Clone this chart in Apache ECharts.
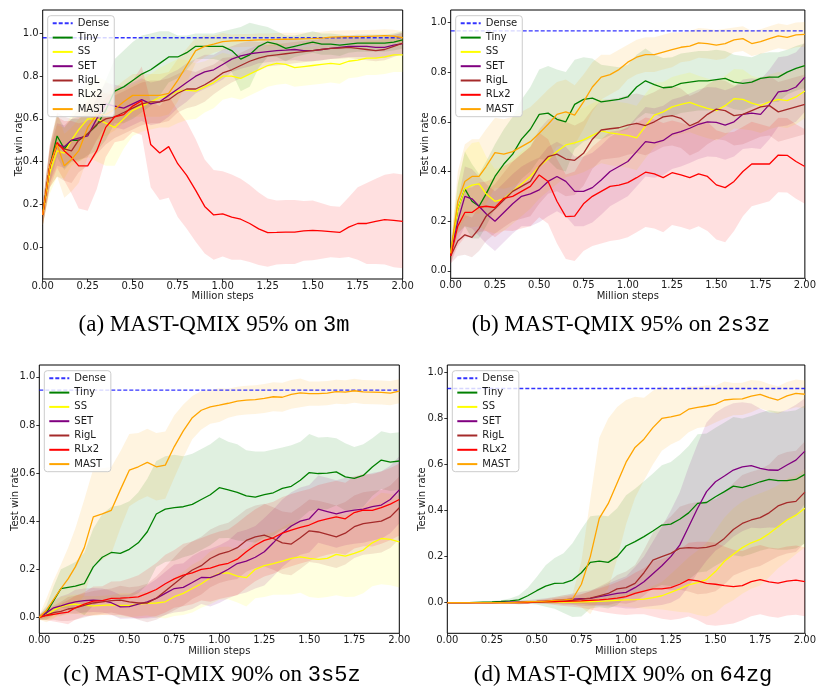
<!DOCTYPE html>
<html><head><meta charset="utf-8">
<script src="https://cdn.jsdelivr.net/npm/echarts@6/dist/echarts.min.js"></script>
<style>html,body{margin:0;padding:0;background:#fff}#c{width:819px;height:690px}</style>
</head><body><div id="c"></div><script>
// ---------- data ----------
const steps = [0,0.04,0.08,0.12,0.16,0.2, 0.25,0.3,0.35,0.4,0.45,0.5,0.55,0.6,0.65,0.7, 0.75,0.8,0.85,0.9,0.95,1,1.05,1.1,1.15,1.2, 1.25,1.3,1.35,1.4,1.45,1.5,1.55,1.6,1.65,1.7, 1.75,1.8,1.85,1.9,1.95,2];
const methods = ['Tiny','SS','SET','RigL','RLx2','MAST'];
const legendNames = ['Dense','Tiny','SS','SET','RigL','RLx2','MAST'];
const yTicks = [0,0.2,0.4,0.6,0.8,1.0];
const denseLevels = [0.98,0.966,0.945,0.93];
const captions = ['(a) MAST-QMIX 95% on |3m','(b) MAST-QMIX 95% on |2s3z','(c) MAST-QMIX 90% on |3s5z','(d) MAST-QMIX 90% on |64zg'];

// panel (a) 3m
const tinyA = [0.15,0.38,0.52,0.46,0.5,0.5, 0.53,0.57,0.64,0.73,0.75,0.78,0.81,0.83,0.86,0.89, 0.89,0.91,0.94,0.94,0.94,0.94,0.92,0.88,0.9,0.94, 0.96,0.95,0.93,0.94,0.95,0.96,0.95,0.95,0.945,0.95, 0.955,0.955,0.955,0.955,0.96,0.97];
const ssA = [0.15,0.35,0.45,0.44,0.5,0.55, 0.6,0.6,0.58,0.56,0.6,0.64,0.66,0.68,0.7,0.71, 0.73,0.735,0.73,0.75,0.77,0.8,0.8,0.79,0.81,0.83, 0.85,0.86,0.855,0.84,0.845,0.85,0.855,0.86,0.855,0.87, 0.875,0.885,0.885,0.89,0.9,0.9];
const setA = [0.15,0.38,0.48,0.47,0.5,0.51, 0.52,0.6,0.67,0.66,0.65,0.67,0.69,0.67,0.68,0.71, 0.74,0.77,0.8,0.82,0.83,0.855,0.88,0.895,0.905,0.91, 0.915,0.92,0.922,0.925,0.92,0.92,0.925,0.93,0.935,0.94, 0.94,0.94,0.935,0.935,0.945,0.952];
const rigA = [0.15,0.38,0.48,0.46,0.45,0.5, 0.53,0.575,0.6,0.61,0.63,0.65,0.67,0.68,0.68,0.69, 0.72,0.74,0.74,0.76,0.785,0.815,0.83,0.85,0.87,0.885, 0.895,0.9,0.905,0.91,0.915,0.92,0.925,0.93,0.932,0.935, 0.93,0.925,0.92,0.925,0.94,0.955];
const rlA = [0.15,0.38,0.49,0.45,0.42,0.38, 0.38,0.45,0.56,0.61,0.62,0.66,0.685,0.48,0.44,0.47, 0.39,0.335,0.265,0.19,0.15,0.155,0.14,0.13,0.11,0.085, 0.067,0.068,0.07,0.07,0.075,0.078,0.075,0.072,0.068,0.093, 0.11,0.11,0.12,0.128,0.125,0.12];
const mastA = [0.15,0.38,0.48,0.38,0.41,0.45, 0.56,0.62,0.62,0.645,0.68,0.71,0.71,0.71,0.71,0.72, 0.78,0.85,0.92,0.94,0.95,0.962,0.965,0.967,0.968,0.97, 0.97,0.972,0.973,0.974,0.975,0.976,0.978,0.983,0.984,0.985, 0.985,0.986,0.988,0.99,0.988,0.98];
const tinyA_sd = [0.05,0.08,0.1,0.1,0.1,0.1, 0.1,0.12,0.14,0.15,0.17,0.18,0.18,0.17,0.15,0.12, 0.1,0.08,0.06,0.06,0.06,0.07,0.1,0.15,0.15,0.1, 0.07,0.06,0.06,0.05,0.05,0.05,0.05,0.05,0.05,0.04, 0.04,0.04,0.04,0.04,0.04,0.04];
const ssA_sd = [0.05,0.1,0.12,0.12,0.12,0.15, 0.18,0.2,0.2,0.18,0.14,0.12,0.12,0.13,0.14,0.15, 0.15,0.14,0.13,0.12,0.12,0.11,0.1,0.1,0.1,0.1, 0.1,0.1,0.09,0.09,0.09,0.09,0.09,0.09,0.09,0.08, 0.08,0.08,0.08,0.08,0.08,0.08];
const setA_sd = [0.05,0.08,0.1,0.1,0.1,0.1, 0.1,0.1,0.1,0.1,0.1,0.1,0.1,0.1,0.1,0.1, 0.09,0.09,0.08,0.08,0.07,0.07,0.06,0.06,0.06,0.05, 0.05,0.05,0.05,0.05,0.05,0.05,0.05,0.05,0.05,0.05, 0.05,0.05,0.05,0.05,0.05,0.05];
const rigA_sd = [0.05,0.1,0.15,0.15,0.15,0.15, 0.15,0.14,0.12,0.1,0.1,0.1,0.1,0.1,0.1,0.1, 0.09,0.09,0.08,0.08,0.07,0.07,0.06,0.06,0.06,0.06, 0.05,0.05,0.05,0.05,0.05,0.05,0.05,0.05,0.05,0.05, 0.05,0.05,0.05,0.05,0.05,0.05];
const rlA_sd = [0.05,0.1,0.12,0.14,0.17,0.2, 0.21,0.18,0.14,0.12,0.12,0.12,0.16,0.2,0.22,0.24, 0.25,0.25,0.24,0.22,0.21,0.2,0.2,0.19,0.18,0.17, 0.16,0.15,0.15,0.15,0.14,0.14,0.13,0.12,0.12,0.14, 0.17,0.19,0.2,0.21,0.22,0.22];
const mastA_sd = [0.05,0.1,0.15,0.15,0.15,0.15, 0.14,0.12,0.1,0.1,0.1,0.1,0.1,0.1,0.1,0.1, 0.1,0.08,0.06,0.05,0.04,0.04,0.03,0.03,0.03,0.03, 0.03,0.03,0.03,0.03,0.03,0.03,0.03,0.03,0.03,0.03, 0.03,0.03,0.03,0.03,0.03,0.03];

// panel (b) 2s3z
const tinyB = [0.07,0.25,0.33,0.28,0.26,0.31, 0.38,0.43,0.47,0.53,0.57,0.63,0.635,0.61,0.6,0.67, 0.69,0.695,0.68,0.685,0.69,0.7,0.74,0.765,0.75,0.737, 0.74,0.755,0.76,0.765,0.765,0.77,0.775,0.76,0.755,0.76, 0.775,0.78,0.78,0.8,0.815,0.826];
const ssB = [0.07,0.25,0.33,0.345,0.35,0.31, 0.28,0.29,0.32,0.35,0.38,0.42,0.45,0.48,0.507,0.515, 0.527,0.545,0.563,0.555,0.55,0.545,0.535,0.583,0.627,0.64, 0.66,0.67,0.678,0.665,0.654,0.645,0.665,0.693,0.69,0.675, 0.665,0.68,0.69,0.685,0.7,0.724];
const setB = [0.06,0.2,0.3,0.29,0.26,0.23, 0.2,0.235,0.27,0.3,0.31,0.326,0.36,0.38,0.36,0.32, 0.32,0.335,0.366,0.4,0.42,0.44,0.48,0.52,0.515,0.525, 0.55,0.56,0.574,0.59,0.6,0.598,0.587,0.6,0.63,0.635, 0.63,0.67,0.72,0.725,0.74,0.78];
const rigB = [0.06,0.12,0.145,0.135,0.17,0.22, 0.25,0.285,0.32,0.34,0.36,0.42,0.46,0.47,0.45,0.445, 0.473,0.53,0.567,0.572,0.576,0.587,0.594,0.585,0.6,0.62, 0.625,0.614,0.584,0.6,0.63,0.651,0.645,0.625,0.63,0.645, 0.66,0.665,0.64,0.65,0.66,0.67];
const rlB = [0.06,0.18,0.235,0.235,0.256,0.26, 0.255,0.292,0.3,0.32,0.34,0.386,0.36,0.28,0.218,0.22, 0.27,0.3,0.32,0.34,0.345,0.355,0.375,0.397,0.39,0.375, 0.395,0.386,0.375,0.39,0.38,0.346,0.335,0.36,0.4,0.43, 0.43,0.43,0.466,0.465,0.44,0.42];
const mastB = [0.07,0.28,0.36,0.38,0.38,0.42, 0.476,0.47,0.48,0.5,0.52,0.554,0.59,0.63,0.64,0.627, 0.68,0.74,0.78,0.79,0.81,0.84,0.86,0.87,0.87,0.88, 0.89,0.9,0.905,0.918,0.915,0.909,0.915,0.93,0.935,0.915, 0.923,0.935,0.946,0.94,0.95,0.952];
const tinyB_sd = [0.03,0.1,0.15,0.15,0.13,0.13, 0.13,0.14,0.15,0.16,0.17,0.18,0.19,0.2,0.2,0.18, 0.17,0.16,0.15,0.14,0.13,0.13,0.13,0.13,0.12,0.12, 0.12,0.12,0.12,0.12,0.12,0.12,0.11,0.11,0.11,0.1, 0.1,0.1,0.1,0.09,0.09,0.09];
const ssB_sd = [0.03,0.1,0.15,0.17,0.17,0.15, 0.13,0.13,0.13,0.13,0.13,0.13,0.13,0.13,0.13,0.13, 0.13,0.13,0.13,0.13,0.13,0.13,0.13,0.13,0.13,0.12, 0.12,0.12,0.12,0.12,0.12,0.12,0.12,0.12,0.12,0.11, 0.11,0.11,0.11,0.11,0.11,0.11];
const setB_sd = [0.03,0.08,0.12,0.12,0.12,0.12, 0.12,0.12,0.12,0.12,0.13,0.13,0.14,0.14,0.14,0.14, 0.14,0.14,0.14,0.14,0.14,0.14,0.14,0.14,0.14,0.14, 0.14,0.14,0.14,0.14,0.14,0.14,0.14,0.14,0.14,0.14, 0.14,0.14,0.14,0.14,0.14,0.14];
const rigB_sd = [0.03,0.06,0.08,0.08,0.09,0.1, 0.1,0.11,0.12,0.13,0.14,0.15,0.15,0.15,0.15,0.14, 0.13,0.12,0.12,0.12,0.12,0.12,0.12,0.12,0.12,0.12, 0.12,0.12,0.12,0.12,0.12,0.12,0.12,0.12,0.12,0.12, 0.12,0.12,0.12,0.12,0.12,0.12];
const rlB_sd = [0.03,0.08,0.1,0.1,0.1,0.1, 0.12,0.13,0.14,0.15,0.16,0.17,0.17,0.17,0.17,0.18, 0.19,0.2,0.21,0.22,0.22,0.22,0.22,0.22,0.22,0.22, 0.21,0.21,0.21,0.21,0.22,0.22,0.22,0.2,0.18,0.17, 0.16,0.15,0.15,0.15,0.15,0.15];
const mastB_sd = [0.03,0.12,0.15,0.15,0.15,0.15, 0.14,0.14,0.14,0.14,0.14,0.14,0.14,0.13,0.13,0.12, 0.11,0.1,0.09,0.08,0.08,0.07,0.07,0.07,0.07,0.07, 0.07,0.06,0.06,0.06,0.06,0.06,0.06,0.05,0.05,0.05, 0.05,0.05,0.05,0.05,0.05,0.05];

// panel (c) 3s5z
const tinyC = [0,0.02,0.07,0.12,0.125,0.13, 0.14,0.21,0.25,0.27,0.266,0.283,0.31,0.356,0.43,0.45, 0.456,0.46,0.47,0.49,0.51,0.539,0.53,0.52,0.505,0.5, 0.51,0.518,0.536,0.545,0.57,0.602,0.598,0.6,0.605,0.584, 0.578,0.59,0.625,0.654,0.645,0.65];
const ssC = [0,0.01,0.03,0.045,0.052,0.055, 0.05,0.048,0.05,0.052,0.05,0.05,0.055,0.058,0.06,0.065, 0.086,0.1,0.12,0.14,0.165,0.183,0.185,0.172,0.165,0.2, 0.215,0.224,0.234,0.245,0.252,0.245,0.241,0.245,0.262,0.255, 0.266,0.28,0.31,0.328,0.324,0.314];
const setC = [0,0.02,0.04,0.048,0.057,0.065, 0.07,0.072,0.07,0.061,0.044,0.045,0.055,0.065,0.079,0.1, 0.12,0.125,0.145,0.166,0.165,0.18,0.2,0.224,0.234,0.25, 0.273,0.31,0.35,0.38,0.4,0.41,0.45,0.44,0.43,0.44, 0.446,0.45,0.46,0.467,0.49,0.53];
const rigC = [0,0.01,0.02,0.025,0.035,0.04, 0.05,0.06,0.065,0.07,0.072,0.065,0.06,0.06,0.08,0.11, 0.14,0.17,0.197,0.215,0.245,0.263,0.273,0.29,0.32,0.335, 0.342,0.328,0.31,0.305,0.331,0.36,0.355,0.345,0.335,0.35, 0.377,0.39,0.395,0.4,0.418,0.456];
const rlC = [0,0.008,0.013,0.018,0.022,0.04, 0.055,0.068,0.07,0.079,0.08,0.082,0.085,0.1,0.116,0.14, 0.16,0.176,0.185,0.2,0.205,0.217,0.225,0.242,0.273,0.3, 0.32,0.331,0.35,0.363,0.374,0.384,0.4,0.41,0.418,0.41, 0.436,0.446,0.445,0.456,0.471,0.49];
const mastC = [0,0.03,0.075,0.12,0.16,0.21, 0.29,0.418,0.43,0.445,0.53,0.612,0.626,0.644,0.626,0.633, 0.71,0.775,0.83,0.861,0.875,0.882,0.89,0.899,0.903,0.905, 0.91,0.917,0.915,0.927,0.933,0.93,0.93,0.932,0.938,0.936, 0.942,0.937,0.936,0.935,0.932,0.94];
const tinyC_sd = [0.01,0.03,0.06,0.08,0.09,0.1, 0.13,0.16,0.18,0.19,0.2,0.2,0.21,0.22,0.22,0.22, 0.22,0.21,0.21,0.21,0.21,0.21,0.2,0.2,0.19,0.19, 0.18,0.18,0.17,0.17,0.16,0.16,0.15,0.15,0.14,0.14, 0.13,0.13,0.12,0.12,0.12,0.12];
const ssC_sd = [0.01,0.02,0.03,0.04,0.04,0.04, 0.04,0.04,0.04,0.04,0.05,0.05,0.05,0.05,0.06,0.07, 0.08,0.09,0.1,0.1,0.11,0.11,0.11,0.11,0.12,0.12, 0.13,0.13,0.14,0.15,0.15,0.16,0.16,0.16,0.17,0.17, 0.18,0.18,0.18,0.19,0.19,0.19];
const setC_sd = [0.01,0.02,0.03,0.04,0.04,0.05, 0.05,0.05,0.05,0.05,0.05,0.05,0.06,0.07,0.08,0.09, 0.1,0.1,0.11,0.11,0.12,0.12,0.12,0.13,0.13,0.13, 0.14,0.14,0.14,0.14,0.14,0.14,0.14,0.14,0.14,0.14, 0.14,0.14,0.14,0.14,0.14,0.14];
const rigC_sd = [0.01,0.02,0.03,0.04,0.05,0.05, 0.05,0.05,0.05,0.05,0.06,0.06,0.07,0.08,0.09,0.1, 0.11,0.12,0.12,0.12,0.12,0.12,0.12,0.13,0.13,0.13, 0.13,0.13,0.13,0.13,0.13,0.13,0.13,0.13,0.13,0.13, 0.13,0.13,0.13,0.13,0.13,0.13];
const rlC_sd = [0.01,0.02,0.03,0.04,0.05,0.05, 0.05,0.06,0.06,0.07,0.07,0.08,0.09,0.1,0.11,0.12, 0.12,0.13,0.13,0.13,0.14,0.14,0.14,0.15,0.15,0.15, 0.15,0.15,0.15,0.15,0.15,0.15,0.15,0.15,0.15,0.15, 0.15,0.15,0.15,0.15,0.15,0.15];
const mastC_sd = [0.01,0.05,0.08,0.1,0.13,0.16, 0.2,0.2,0.19,0.18,0.16,0.15,0.14,0.14,0.14,0.14, 0.13,0.11,0.09,0.08,0.07,0.07,0.06,0.06,0.06,0.06, 0.06,0.06,0.06,0.06,0.06,0.05,0.05,0.05,0.05,0.05, 0.05,0.05,0.05,0.05,0.05,0.05];

// panel (d) 64zg
const tinyD = [0,0,0,0,0.001,0.002, 0.003,0.005,0.008,0.012,0.03,0.052,0.072,0.084,0.085,0.098, 0.13,0.175,0.18,0.175,0.2,0.246,0.265,0.287,0.311,0.337, 0.341,0.362,0.39,0.431,0.435,0.46,0.482,0.506,0.5,0.511, 0.525,0.535,0.53,0.53,0.535,0.557];
const ssD = [0,0,0,0,0,0, 0,0,0,0,0.001,0.001,0.002,0.002,0.003,0.003, 0.004,0.005,0.006,0.008,0.01,0.012,0.013,0.015,0.022,0.03, 0.045,0.06,0.077,0.087,0.1,0.135,0.18,0.21,0.239,0.26, 0.275,0.3,0.33,0.359,0.38,0.41];
const setD = [0,0,0,0,0,0, 0,0.001,0.002,0.003,0.004,0.005,0.007,0.01,0.012,0.015, 0.017,0.019,0.026,0.033,0.04,0.045,0.065,0.091,0.126,0.16, 0.2,0.25,0.33,0.41,0.482,0.525,0.55,0.576,0.59,0.595, 0.583,0.576,0.575,0.598,0.619,0.658];
const rigD = [0,0,0,0,0,0, 0,0,0,0,0,0.003,0.004,0.005,0.007,0.01, 0.015,0.02,0.03,0.04,0.06,0.065,0.084,0.13,0.185,0.2, 0.214,0.236,0.239,0.237,0.24,0.25,0.279,0.318,0.344,0.359, 0.369,0.39,0.42,0.434,0.44,0.48];
const rlD = [0,0,0,0,0,0, 0,0,0,0,0,0.004,0.005,0.005,0.006,0.007, 0.008,0.01,0.012,0.015,0.02,0.026,0.04,0.05,0.06,0.06, 0.065,0.08,0.1,0.095,0.084,0.08,0.074,0.07,0.074,0.091, 0.1,0.09,0.085,0.094,0.098,0.091];
const mastD = [0,0,0,0,0,0, 0,0,0,0.002,0.004,0.005,0.007,0.01,0.012,0.015, 0.08,0.2,0.366,0.43,0.52,0.61,0.674,0.71,0.76,0.8, 0.807,0.815,0.84,0.848,0.854,0.862,0.88,0.884,0.885,0.897, 0.904,0.89,0.88,0.898,0.909,0.905];
const tinyD_sd = [0,0,0,0,0,0.002, 0.004,0.006,0.01,0.02,0.035,0.06,0.09,0.11,0.13,0.16, 0.19,0.2,0.2,0.2,0.21,0.22,0.23,0.24,0.25,0.26, 0.27,0.28,0.29,0.3,0.3,0.3,0.3,0.3,0.3,0.3, 0.3,0.3,0.3,0.3,0.3,0.3];
const ssD_sd = [0,0,0,0,0,0, 0,0,0,0,0.002,0.003,0.004,0.005,0.006,0.008, 0.01,0.012,0.015,0.02,0.025,0.03,0.035,0.04,0.05,0.06, 0.08,0.1,0.12,0.14,0.16,0.18,0.19,0.2,0.2,0.2, 0.2,0.19,0.18,0.18,0.17,0.17];
const setD_sd = [0,0,0,0,0,0, 0,0.002,0.004,0.006,0.008,0.01,0.012,0.015,0.02,0.025, 0.03,0.035,0.04,0.05,0.06,0.07,0.09,0.11,0.14,0.17, 0.2,0.23,0.26,0.28,0.3,0.3,0.3,0.29,0.28,0.27, 0.26,0.25,0.25,0.24,0.24,0.23];
const rigD_sd = [0,0,0,0,0,0, 0,0,0,0,0,0.003,0.005,0.007,0.01,0.015, 0.02,0.03,0.04,0.05,0.06,0.07,0.08,0.1,0.12,0.14, 0.16,0.18,0.19,0.2,0.2,0.2,0.2,0.2,0.21,0.21, 0.21,0.21,0.22,0.22,0.22,0.22];
const rlD_sd = [0,0,0,0,0,0, 0,0,0,0,0,0.005,0.01,0.015,0.02,0.025, 0.03,0.04,0.05,0.06,0.07,0.08,0.09,0.1,0.12,0.13, 0.14,0.15,0.16,0.17,0.18,0.18,0.17,0.16,0.15,0.15, 0.15,0.15,0.15,0.15,0.15,0.15];
const mastD_sd = [0,0,0,0,0,0, 0,0,0.002,0.004,0.006,0.008,0.01,0.015,0.02,0.02, 0.1,0.25,0.35,0.37,0.33,0.27,0.22,0.18,0.16,0.14, 0.12,0.11,0.1,0.09,0.09,0.08,0.08,0.07,0.07,0.07, 0.06,0.06,0.06,0.06,0.06,0.06];

// ---------- layout / style ----------
const colors = {Dense:'#0000ff', Tiny:'#008000', SS:'#ffff00', SET:'#800080', RigL:'#a52a2a', RLx2:'#ff0000', MAST:'#ffa500'};
const panelData = [
  {Tiny:[tinyA,tinyA_sd], SS:[ssA,ssA_sd], SET:[setA,setA_sd], RigL:[rigA,rigA_sd], RLx2:[rlA,rlA_sd], MAST:[mastA,mastA_sd]},
  {Tiny:[tinyB,tinyB_sd], SS:[ssB,ssB_sd], SET:[setB,setB_sd], RigL:[rigB,rigB_sd], RLx2:[rlB,rlB_sd], MAST:[mastB,mastB_sd]},
  {Tiny:[tinyC,tinyC_sd], SS:[ssC,ssC_sd], SET:[setC,setC_sd], RigL:[rigC,rigC_sd], RLx2:[rlC,rlC_sd], MAST:[mastC,mastC_sd]},
  {Tiny:[tinyD,tinyD_sd], SS:[ssD,ssD_sd], SET:[setD,setD_sd], RigL:[rigD,rigD_sd], RLx2:[rlD,rlD_sd], MAST:[mastD,mastD_sd]}
];
const layout = [
  {grid:{left:42.7, top:10, width:360, height:269}, ymin:-0.15, ymax:1.11, legend:{left:47.7, top:15.7}, nameGap:18.5, cap:{x:214, y:325}},
  {grid:{left:450.7, top:10, width:359.3, height:268.3}, ymin:-0.03, ymax:1.05, legend:{left:455.7, top:15.7}, nameGap:20.5, cap:{x:621, y:325}},
  {grid:{left:39.3, top:365, width:360, height:268.3}, ymin:-0.066, ymax:1.049, legend:{left:44.3, top:370.7}, nameGap:19.3, cap:{x:212, y:675}},
  {grid:{left:447.3, top:365, width:359.4, height:268.3}, ymin:-0.133, ymax:1.032, legend:{left:452.3, top:370.7}, nameGap:19.6, cap:{x:623, y:675}}
];

for (let p = 0; p < 4; p++) for (const m of methods) {
  const [mu, sd] = panelData[p][m];
  if (mu.length !== steps.length || sd.length !== steps.length) throw new Error('length mismatch panel '+p+' '+m+' '+mu.length+'/'+sd.length);
}

function rgba(hex, a) {
  const n = parseInt(hex.slice(1), 16);
  return 'rgba(' + ((n>>16)&255) + ',' + ((n>>8)&255) + ',' + (n&255) + ',' + a + ')';
}
function bandRenderer(fill) {
  return function (params, api) {
    if (params.dataIndexInside !== 0) return null;
    const n = params.dataInsideLength;
    const up = [], lo = [];
    for (let k = 0; k < n; k++) {
      up.push(api.coord([api.value(0, k), api.value(2, k)]));
      lo.push(api.coord([api.value(0, k), api.value(1, k)]));
    }
    return {type:'polygon', shape:{points: up.concat(lo.reverse())}, style:{fill: fill, stroke: null}};
  };
}

const txt = '#1a1a1a';
const grids = [], xAxes = [], yAxes = [], legends = [], series = [], graphics = [];
layout.forEach((L, i) => {
  grids.push(Object.assign({show:true, borderColor:'#000', borderWidth:1, backgroundColor:'transparent'}, L.grid));
  xAxes.push({type:'value', gridIndex:i, min:0, max:2, interval:0.25,
    axisLine:{show:false, onZero:false}, splitLine:{show:false},
    axisTick:{show:true, length:3, lineStyle:{color:'#000', width:0.8}},
    axisLabel:{fontSize:10, color:txt, fontFamily:'DejaVu Sans', margin:2, formatter:v=>v.toFixed(2)},
    name:'Million steps', nameLocation:'middle', nameGap:10, nameTextStyle:{fontSize:10, color:txt, fontFamily:'DejaVu Sans'}});
  yAxes.push({type:'value', gridIndex:i, min:L.ymin, max:L.ymax,
    axisLine:{show:false, onZero:false}, splitLine:{show:false},
    axisTick:{show:true, length:3, customValues:yTicks, lineStyle:{color:'#000', width:0.8}},
    axisLabel:{fontSize:10, color:txt, fontFamily:'DejaVu Sans', margin:4, customValues:yTicks, formatter:v=>v.toFixed(1)},
    name:'Test win rate', nameLocation:'middle', nameGap:L.nameGap, nameMoveOverlap:false,
    nameTextStyle:{fontSize:10, color:txt, fontFamily:'DejaVu Sans'}});
  legends.push({left:L.legend.left, top:L.legend.top, orient:'vertical', itemWidth:20, itemHeight:10, itemGap:4.3,
    padding:[2.6,5,2.6,4], backgroundColor:'rgba(255,255,255,0.8)', borderColor:'#cccccc', borderWidth:1, borderRadius:3,
    itemStyle:{opacity:0},
    textStyle:{fontSize:10, color:txt, fontFamily:'DejaVu Sans'}, data:legendNames, selectedMode:false});

  // dense reference
  series.push({type:'line', name:'Dense', xAxisIndex:i, yAxisIndex:i, symbol:'none', silent:true, z:2,
    data:[[steps[0], denseLevels[i]], [steps[steps.length-1], denseLevels[i]]],
    lineStyle:{color:colors.Dense, width:1.3, type:[4,2], opacity:0.8}, itemStyle:{color:colors.Dense}});
  // shaded bands (mean +/- spread)
  methods.forEach(m => {
    const [mu, sd] = panelData[i][m];
    series.push({type:'custom', name:m+' band '+i, xAxisIndex:i, yAxisIndex:i, silent:true, z:1, clip:true,
      encode:{x:0, y:[1,2]},
      data:steps.map((x,k)=>[x, mu[k]-sd[k], mu[k]+sd[k]]),
      renderItem:bandRenderer(rgba(colors[m], 0.12))});
  });
  // mean lines
  methods.forEach(m => {
    const [mu] = panelData[i][m];
    series.push({type:'line', name:m, xAxisIndex:i, yAxisIndex:i, symbol:'none', silent:true, z:3,
      data:steps.map((x,k)=>[x, mu[k]]), lineStyle:{color:colors[m], width:1.3}, itemStyle:{color:colors[m]}});
  });
  // caption
  const parts = captions[i].split('|');
  graphics.push({type:'text', x:L.cap.x, y:L.cap.y, silent:true, style:{
    text:'{s|'+parts[0]+'}{m|'+parts[1]+'}', align:'center', verticalAlign:'middle',
    rich:{s:{fontFamily:'Liberation Serif', fontSize:23, fill:'#000'}, m:{fontFamily:'Liberation Mono', fontSize:22, fill:'#000'}}}});
});

const chart = echarts.init(document.getElementById('c'), null, {renderer:'canvas'});
chart.setOption({animation:false, backgroundColor:'#fff', grid:grids, xAxis:xAxes, yAxis:yAxes, legend:legends, series:series, graphic:graphics});
</script></body></html>
